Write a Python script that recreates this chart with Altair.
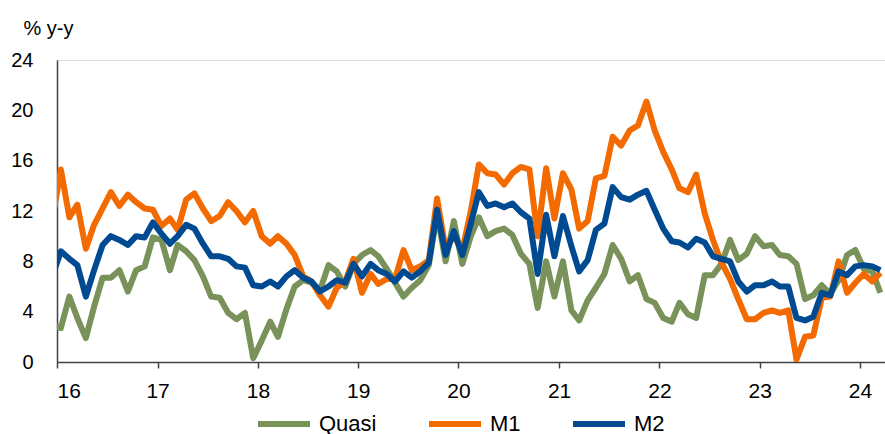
import altair as alt
import pandas as pd

# Monthly data, Dec 2015 .. Mar 2024 (mid-month), % y-y
start_year, start_month = 2015, 12

quasi = [2.9,
         2.7, 5.2, 3.5, 1.9, 4.4, 6.7, 6.7, 7.3, 5.6, 7.3, 7.6, 9.9,
         9.7, 7.3, 9.3, 8.8, 8.1, 6.8, 5.2, 5.1, 3.9, 3.4, 3.9, 0.3,
         1.7, 3.2, 2.0, 4.2, 6.0, 6.5, 6.3, 5.7, 7.7, 7.2, 6.0, 7.8,
         8.5, 8.9, 8.4, 7.4, 6.3, 5.2, 5.9, 6.5, 7.7, 11.8, 8.0, 11.2,
         7.8, 10.0, 11.5, 10.0, 10.4, 10.6, 10.1, 8.6, 7.8, 4.3, 8.0, 5.2,
         8.0, 4.1, 3.3, 4.9, 5.9, 7.0, 9.3, 8.2, 6.4, 6.9, 5.0, 4.7,
         3.5, 3.2, 4.7, 3.8, 3.5, 6.9, 6.9, 7.8, 9.7, 8.1, 8.6, 10.0,
         9.2, 9.3, 8.5, 8.4, 7.8, 5.0, 5.3, 6.1, 5.4, 6.5, 8.5, 8.9,
         7.4, 7.2, 5.5]

m1 = [11.3,
      15.3, 11.5, 12.5, 9.0, 10.9, 12.2, 13.5, 12.4, 13.3, 12.7, 12.2, 12.1,
      10.8, 11.4, 10.5, 12.9, 13.4, 12.2, 11.2, 11.6, 12.7, 12.0, 11.1, 12.0,
      10.0, 9.4, 10.0, 9.4, 8.5, 6.8, 6.4, 5.3, 4.4, 5.9, 6.4, 8.2,
      5.5, 7.0, 6.2, 6.6, 6.6, 8.9, 7.3, 7.6, 8.1, 13.0, 9.0, 10.0,
      8.9, 12.0, 15.7, 15.0, 14.9, 14.1, 15.0, 15.5, 15.3, 10.0, 15.4, 11.4,
      15.0, 13.7, 10.6, 11.2, 14.6, 14.8, 17.9, 17.2, 18.4, 18.8, 20.7, 18.4,
      16.7, 15.3, 13.8, 13.5, 14.9, 11.8, 9.7, 7.9, 6.6, 5.0, 3.4, 3.4,
      3.9, 4.1, 3.9, 4.1, 0.2, 2.0, 2.1, 5.1, 5.2, 8.0, 5.5, 6.3,
      7.0, 6.4, 7.1]

m2 = [6.8,
      8.8, 8.2, 7.7, 5.2, 7.3, 9.3, 10.0, 9.7, 9.3, 10.0, 9.9, 11.1,
      10.2, 9.4, 10.0, 10.9, 10.6, 9.4, 8.4, 8.4, 8.2, 7.6, 7.5, 6.1,
      6.0, 6.4, 6.0, 6.8, 7.3, 6.7, 6.4, 5.6, 6.0, 6.5, 6.3, 7.8,
      6.8, 7.8, 7.3, 7.0, 6.4, 7.2, 6.7, 7.2, 7.9, 12.1, 8.5, 10.4,
      8.5, 11.0, 13.5, 12.4, 12.6, 12.3, 12.6, 11.9, 11.4, 7.0, 11.7, 8.4,
      11.6, 9.2, 7.2, 8.1, 10.5, 11.0, 13.9, 13.1, 12.9, 13.3, 13.6, 12.1,
      10.6, 9.6, 9.5, 9.1, 9.8, 9.5, 8.4, 8.2, 8.0, 6.4, 5.6, 6.1,
      6.1, 6.4, 6.0, 6.0, 3.5, 3.3, 3.6, 5.5, 5.3, 7.2, 6.9, 7.6,
      7.7, 7.6, 7.3]

series_names = ["Quasi", "M1", "M2"]
series_colors = ["#78925A", "#F26A00", "#004A92"]
tick_years = list(range(2016, 2025))

dates = []
y, m = start_year, start_month
for _ in range(len(quasi)):
    dates.append(f"{y}-{m:02d}-15")
    m += 1
    if m > 12:
        m = 1
        y += 1

rows = []
for name, vals in zip(series_names, [quasi, m1, m2]):
    for d, v in zip(dates, vals):
        rows.append({"date": d, "series": name, "value": v})
df = pd.DataFrame(rows)

FONT = "Liberation Sans"

base = alt.Chart(df).mark_line(strokeWidth=6, clip=True, strokeJoin="round").encode(
    x=alt.X(
        "date:T",
        scale=alt.Scale(type="utc", domain=["2016-01-01", "2024-04-01"]),
        axis=alt.Axis(
            values=[alt.DateTime(year=yy, month=1, date=1, utc=True) for yy in tick_years],
            format="%y", title=None, grid=False,
            domainColor="#404040", domainWidth=1.5,
            tickColor="#404040", tickWidth=1.5, tickSize=6,
            labelFontSize=21, labelPadding=12, labelColor="#000000",
            labelFont=FONT,
        ),
    ),
    y=alt.Y(
        "value:Q",
        scale=alt.Scale(domain=[0, 24], nice=False),
        axis=alt.Axis(
            values=list(range(0, 25, 4)), grid=False, ticks=False, tickSize=0,
            domainColor="#404040", domainWidth=1.5,
            labelFontSize=20, labelPadding=24, labelColor="#000000", labelFont=FONT,
            title="% y-y", titleAngle=0, titleAlign="left", titleBaseline="alphabetic",
            titleX=-34, titleY=-26, titleFontSize=20, titleFontWeight="normal",
            titleFont=FONT, titleColor="#000000",
        ),
    ),
    color=alt.Color(
        "series:N",
        scale=alt.Scale(domain=series_names, range=series_colors),
        legend=alt.Legend(
            orient="none", legendX=198, legendY=335, direction="horizontal",
            title=None, symbolType="stroke", symbolSize=2704, symbolStrokeWidth=6,
            labelFontSize=22, labelOffset=6, columnPadding=40, padding=0,
            labelColor="#000000", labelFont=FONT,
        ),
    ),
)

layers = [base.transform_filter(alt.datum.series == s) for s in series_names]

chart = alt.layer(*layers).properties(
    width=828, height=302,
    autosize=alt.AutoSizeParams(type="none"),
    padding={"left": 57, "top": 60, "right": 0, "bottom": 72},
).configure_view(stroke=None).configure(font=FONT)

chart.save("out.html", embed_options={"renderer": "svg", "actions": False})
